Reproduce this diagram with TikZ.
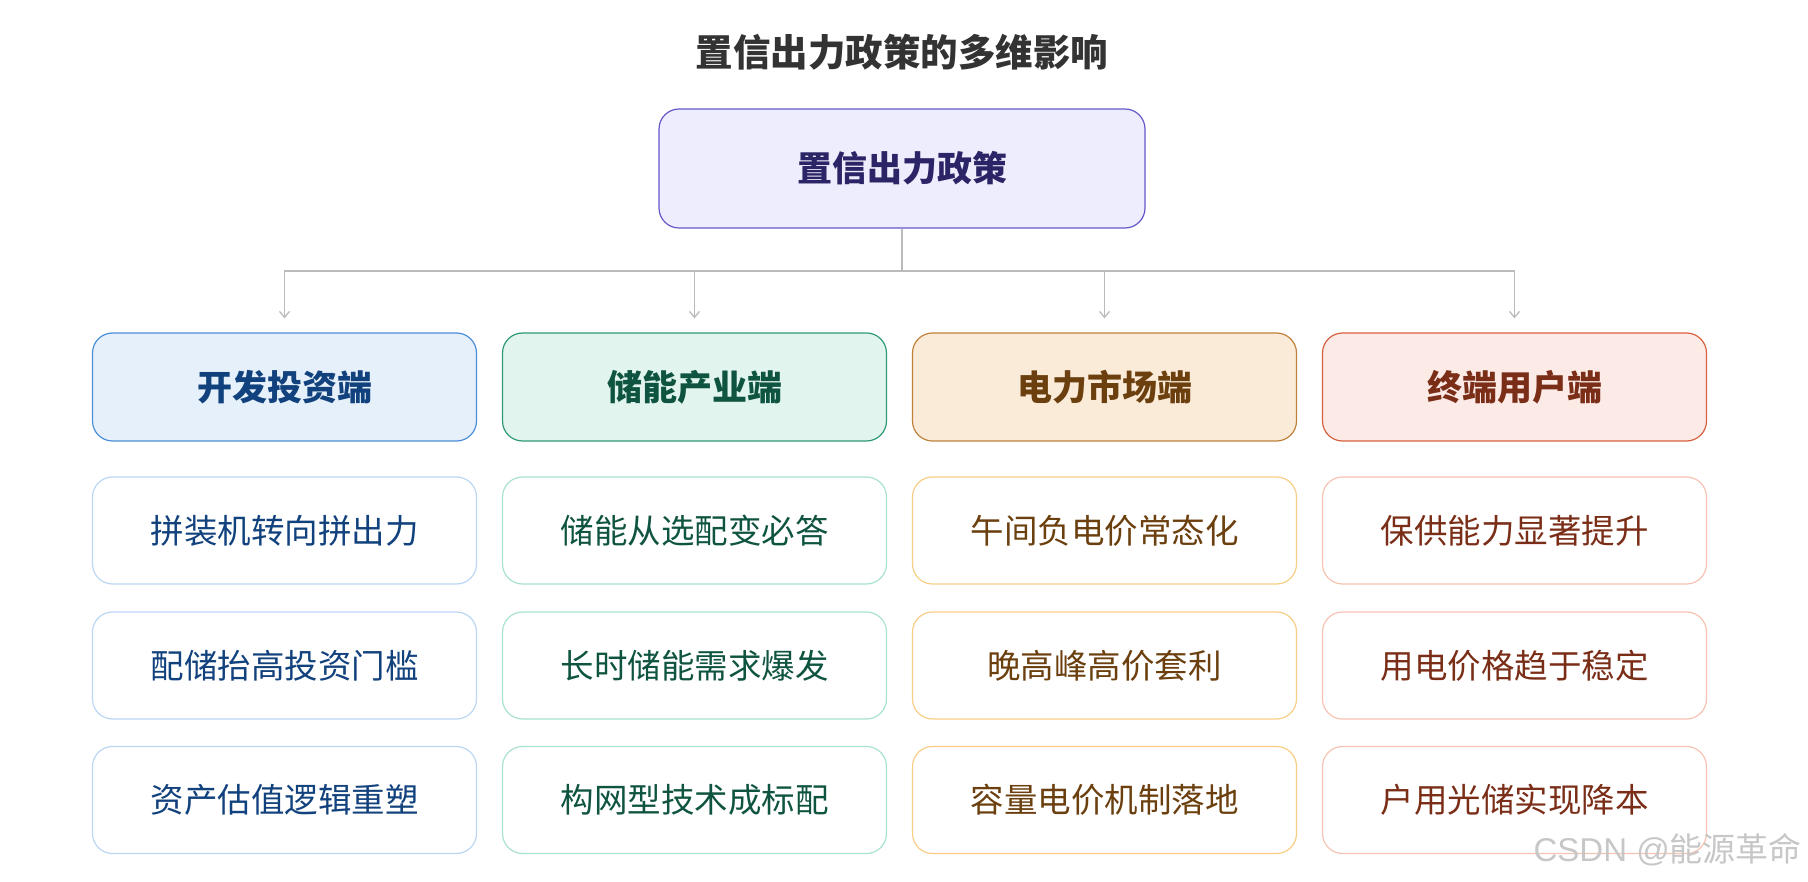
\documentclass[tikz,border=0pt]{standalone}
\usepackage{fontspec}
\setmainfont{Noto Sans CJK SC}
\newfontfamily\cjk{Noto Sans CJK SC}
\newfontfamily\wmfont{Liberation Sans}
\usetikzlibrary{arrows.meta}
\definecolor{rootfill}{HTML}{EEEDFD}
\definecolor{rootdraw}{HTML}{6457C8}
\definecolor{roottext}{HTML}{2B2466}
\definecolor{afill}{HTML}{E6F0FA}\definecolor{adraw}{HTML}{4A8FD8}\definecolor{atext}{HTML}{12427D}\definecolor{aitem}{HTML}{BBD7F3}
\definecolor{bfill}{HTML}{E1F4EE}\definecolor{bdraw}{HTML}{2E9A74}\definecolor{btext}{HTML}{0F5440}\definecolor{bitem}{HTML}{A9E2CF}
\definecolor{cfill}{HTML}{FAEBD9}\definecolor{cdraw}{HTML}{C0813A}\definecolor{ctext}{HTML}{6B3F0E}\definecolor{citem}{HTML}{F8CE87}
\definecolor{dfill}{HTML}{FBEAE6}\definecolor{ddraw}{HTML}{D9603F}\definecolor{dtext}{HTML}{7B2E17}\definecolor{ditem}{HTML}{F6C3B3}
\definecolor{linkgray}{HTML}{BBBBBB}
\definecolor{titlegray}{HTML}{333333}
\tikzset{
  box/.style={rounded corners=20pt, line width=1.2pt, inner sep=0pt, align=center},
  rootbox/.style={box, fill=rootfill, draw=rootdraw, text=roottext, minimum width=486pt, minimum height=119pt, font=\cjk\fontsize{35}{40}\selectfont\bfseries},
  catbox/.style={box, minimum width=384pt, minimum height=108pt, font=\cjk\fontsize{35}{40}\selectfont\bfseries},
  itembox/.style={box, fill=white, minimum width=384pt, minimum height=107pt, font=\cjk\fontsize{33.5}{38}\selectfont},
  link/.style={draw=linkgray, line width=1.3pt},
  arr/.style={link, -{Straight Barb[length=6pt,width=10pt,line width=1.3pt]}},
}
\begin{document}
\begin{tikzpicture}[x=1pt,y=-1pt]
\useasboundingbox (0,0) rectangle (1808,882);
\node[font=\cjk\fontsize{37.5}{42}\selectfont\bfseries, text=titlegray] (title) at (902,52) {置信出力政策的多维影响};
\node[rootbox] (root) at (902,168.5) {置信出力政策};
% categories
\node[catbox, fill=afill, draw=adraw, text=atext] (c1) at (284.5,387) {开发投资端};
\node[catbox, fill=bfill, draw=bdraw, text=btext] (c2) at (694.5,387) {储能产业端};
\node[catbox, fill=cfill, draw=cdraw, text=ctext] (c3) at (1104.5,387) {电力市场端};
\node[catbox, fill=dfill, draw=ddraw, text=dtext] (c4) at (1514.5,387) {终端用户端};
% items
\node[itembox, draw=aitem, text=atext] (a1) at (284.5,530.5) {拼装机转向拼出力};
\node[itembox, draw=aitem, text=atext] (a2) at (284.5,665.5) {配储抬高投资门槛};
\node[itembox, draw=aitem, text=atext] (a3) at (284.5,800) {资产估值逻辑重塑};
\node[itembox, draw=bitem, text=btext] (b1) at (694.5,530.5) {储能从选配变必答};
\node[itembox, draw=bitem, text=btext] (b2) at (694.5,665.5) {长时储能需求爆发};
\node[itembox, draw=bitem, text=btext] (b3) at (694.5,800) {构网型技术成标配};
\node[itembox, draw=citem, text=ctext] (cc1) at (1104.5,530.5) {午间负电价常态化};
\node[itembox, draw=citem, text=ctext] (cc2) at (1104.5,665.5) {晚高峰高价套利};
\node[itembox, draw=citem, text=ctext] (cc3) at (1104.5,800) {容量电价机制落地};
\node[itembox, draw=ditem, text=dtext] (d1) at (1514.5,530.5) {保供能力显著提升};
\node[itembox, draw=ditem, text=dtext] (d2) at (1514.5,665.5) {用电价格趋于稳定};
\node[itembox, draw=ditem, text=dtext] (d3) at (1514.5,800) {户用光储实现降本};
% connectors
\coordinate (bus) at (902,271);
\draw[link] (root.south) -- (bus);
\draw[arr] (bus) -| ([yshift=14pt]c1.north);
\draw[arr] (bus) -| ([yshift=14pt]c2.north);
\draw[arr] (bus) -| ([yshift=14pt]c3.north);
\draw[arr] (bus) -| ([yshift=14pt]c4.north);
% watermark
\node[anchor=east, text=black!22, inner sep=0pt] (wm) at (1802,850) {\wmfont\fontsize{33}{38}\selectfont CSDN @\cjk 能源革命};
\end{tikzpicture}
\end{document}
